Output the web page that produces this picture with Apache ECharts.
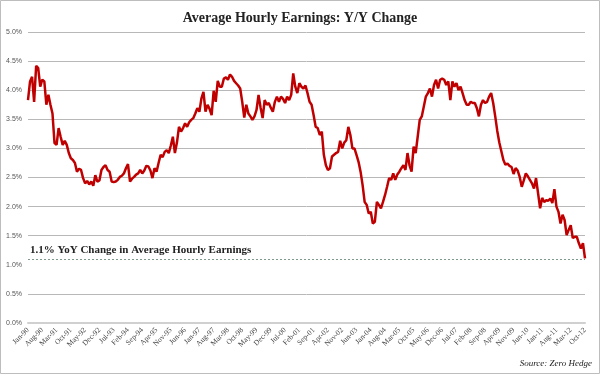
<!DOCTYPE html>
<html>
<head>
<meta charset="utf-8">
<script src="https://cdn.jsdelivr.net/npm/echarts@6/dist/echarts.min.js"></script>
<style>
  html, body { margin: 0; padding: 0; background: #fff; }
  #chart { width: 600px; height: 374px; }
</style>
</head>
<body>
<div id="chart"></div>
<script>
// monthly, Jan-90 .. Oct-12
const monthNames = ['Jan', 'Feb', 'Mar', 'Apr', 'May', 'Jun', 'Jul', 'Aug', 'Sep', 'Oct', 'Nov', 'Dec'];
const firstYear = 1990;

// Y/Y change in average hourly earnings (%)
const yoyChange = [
  3.83, 4.15, 4.23, 3.80, 4.42, 4.38, 4.06, 4.18, 4.15, 3.75, 3.92, 3.75,
  3.60, 3.09, 3.06, 3.35, 3.20, 3.06, 3.13, 3.06, 2.92, 2.83, 2.80, 2.75,
  2.60, 2.65, 2.63, 2.49, 2.40, 2.44, 2.38, 2.43, 2.36, 2.54, 2.43, 2.45,
  2.63, 2.68, 2.71, 2.63, 2.60, 2.43, 2.42, 2.43, 2.46, 2.51, 2.53, 2.57,
  2.66, 2.73, 2.43, 2.48, 2.51, 2.55, 2.57, 2.63, 2.57, 2.62, 2.70, 2.69,
  2.62, 2.49, 2.66, 2.60, 2.75, 2.89, 2.85, 2.94, 2.97, 2.92, 3.05, 3.20,
  2.92, 3.10, 3.37, 3.29, 3.35, 3.43, 3.37, 3.45, 3.49, 3.52, 3.60, 3.69,
  3.63, 3.86, 3.97, 3.63, 3.75, 3.68, 3.57, 3.99, 3.80, 4.16, 4.06, 4.06,
  4.20, 4.22, 4.18, 4.27, 4.23, 4.16, 4.12, 4.08, 4.03, 3.80, 3.53, 3.75,
  3.60, 3.55, 3.49, 3.55, 3.66, 3.92, 3.70, 3.52, 3.83, 3.75, 3.78, 3.70,
  3.63, 3.80, 3.89, 3.80, 3.89, 3.85, 3.78, 3.89, 3.83, 3.92, 4.29, 4.06,
  3.95, 4.12, 4.06, 4.03, 4.08, 3.95, 3.80, 3.75, 3.57, 3.37, 3.35, 3.23,
  3.29, 2.89, 2.71, 2.63, 2.66, 2.86, 2.89, 2.92, 2.94, 3.13, 3.00, 3.10,
  3.14, 3.37, 3.23, 3.00, 3.00, 2.89, 2.77, 2.60, 2.37, 2.08, 2.03, 1.88,
  1.91, 1.71, 1.74, 2.08, 2.03, 1.97, 2.08, 2.20, 2.34, 2.49, 2.46, 2.57,
  2.46, 2.55, 2.60, 2.66, 2.71, 2.63, 2.92, 2.71, 2.60, 3.03, 2.92, 3.20,
  3.49, 3.55, 3.72, 3.89, 3.95, 4.03, 3.89, 4.09, 4.18, 4.03, 4.18, 4.20,
  4.18, 4.09, 4.15, 3.83, 4.15, 4.06, 4.12, 4.00, 4.06, 3.95, 3.83, 3.75,
  3.75, 3.80, 3.78, 3.78, 3.69, 3.55, 3.75, 3.83, 3.78, 3.80, 3.89, 3.95,
  3.78, 3.55, 3.30, 3.10, 2.95, 2.80, 2.72, 2.74, 2.70, 2.68, 2.56, 2.66,
  2.62, 2.51, 2.34, 2.45, 2.57, 2.52, 2.46, 2.40, 2.31, 2.49, 2.23, 1.97,
  2.15, 2.08, 2.11, 2.10, 2.14, 2.06, 2.30, 2.00, 1.91, 1.71, 1.86, 1.77,
  1.51, 1.60, 1.68, 1.46, 1.48, 1.48, 1.37, 1.28, 1.37, 1.11
];

const latestLevel = 1.1;

const categories = yoyChange.map(function (_, i) {
  const yr = (firstYear + Math.floor(i / 12)) % 100;
  return monthNames[i % 12] + '-' + String(yr).padStart(2, '0');
});

// gridline colours, 0.0% .. 5.0%; the 1.0% one is hidden by the dashed marker
const gridColors = ['#b8b8b8', '#b8b8b8', 'rgba(0,0,0,0)', '#b8b8b8', '#b8b8b8', '#b8b8b8',
  '#b8b8b8', '#b8b8b8', '#b8b8b8', '#b8b8b8', '#b8b8b8'];

const chart = echarts.init(document.getElementById('chart'));

const option = {
  backgroundColor: '#fff',
  animation: false,
  title: {
    text: 'Average Hourly Earnings: Y/Y Change',
    left: 'center',
    top: 6,
    textStyle: {
      fontFamily: 'Liberation Serif',
      fontWeight: 'bold',
      fontSize: 14,
      color: '#222'
    }
  },
  grid: { left: 28, right: 15, top: 32, bottom: 51 },
  xAxis: {
    type: 'category',
    data: categories,
    boundaryGap: false,
    axisLine: { lineStyle: { color: '#d0d0d0', width: 2 } },
    axisTick: { show: false },
    axisLabel: {
      interval: 6,
      rotate: 45,
      fontFamily: 'Liberation Serif',
      fontSize: 7.5,
      color: '#444',
      margin: 6
    }
  },
  yAxis: {
    type: 'value',
    min: 0,
    max: 5,
    interval: 0.5,
    axisLine: { show: false },
    axisTick: { show: false },
    axisLabel: {
      formatter: function (v) { return v.toFixed(1) + '%'; },
      fontFamily: 'Liberation Sans',
      fontSize: 7,
      color: '#555',
      margin: 6
    },
    splitLine: { lineStyle: { color: gridColors, width: 1 } }
  },
  series: [{
    type: 'line',
    data: yoyChange,
    showSymbol: false,
    lineStyle: { color: '#c00000', width: 2.5 },
    markLine: {
      silent: true,
      symbol: 'none',
      lineStyle: { color: '#7e9c8c', type: [2, 2], width: 1 },
      label: {
        position: 'insideStartTop',
        formatter: '1.1% YoY Change in Average Hourly Earnings',
        fontFamily: 'Liberation Serif',
        fontWeight: 'bold',
        fontSize: 11,
        color: '#222',
        distance: [2, 3]
      },
      data: [{ yAxis: latestLevel }]
    }
  }],
  graphic: [
    {
      type: 'rect',
      shape: { x: 0.5, y: 0.5, width: 599, height: 373 },
      style: { fill: 'none', stroke: '#bdbdbd', lineWidth: 1 },
      silent: true
    },
    {
      type: 'text',
      right: 8,
      top: 359,
      style: {
        text: 'Source: Zero Hedge',
        fontFamily: 'Liberation Serif',
        fontStyle: 'italic',
        fontSize: 9,
        fill: '#222'
      }
    }
  ]
};

chart.setOption(option);
</script>
</body>
</html>
